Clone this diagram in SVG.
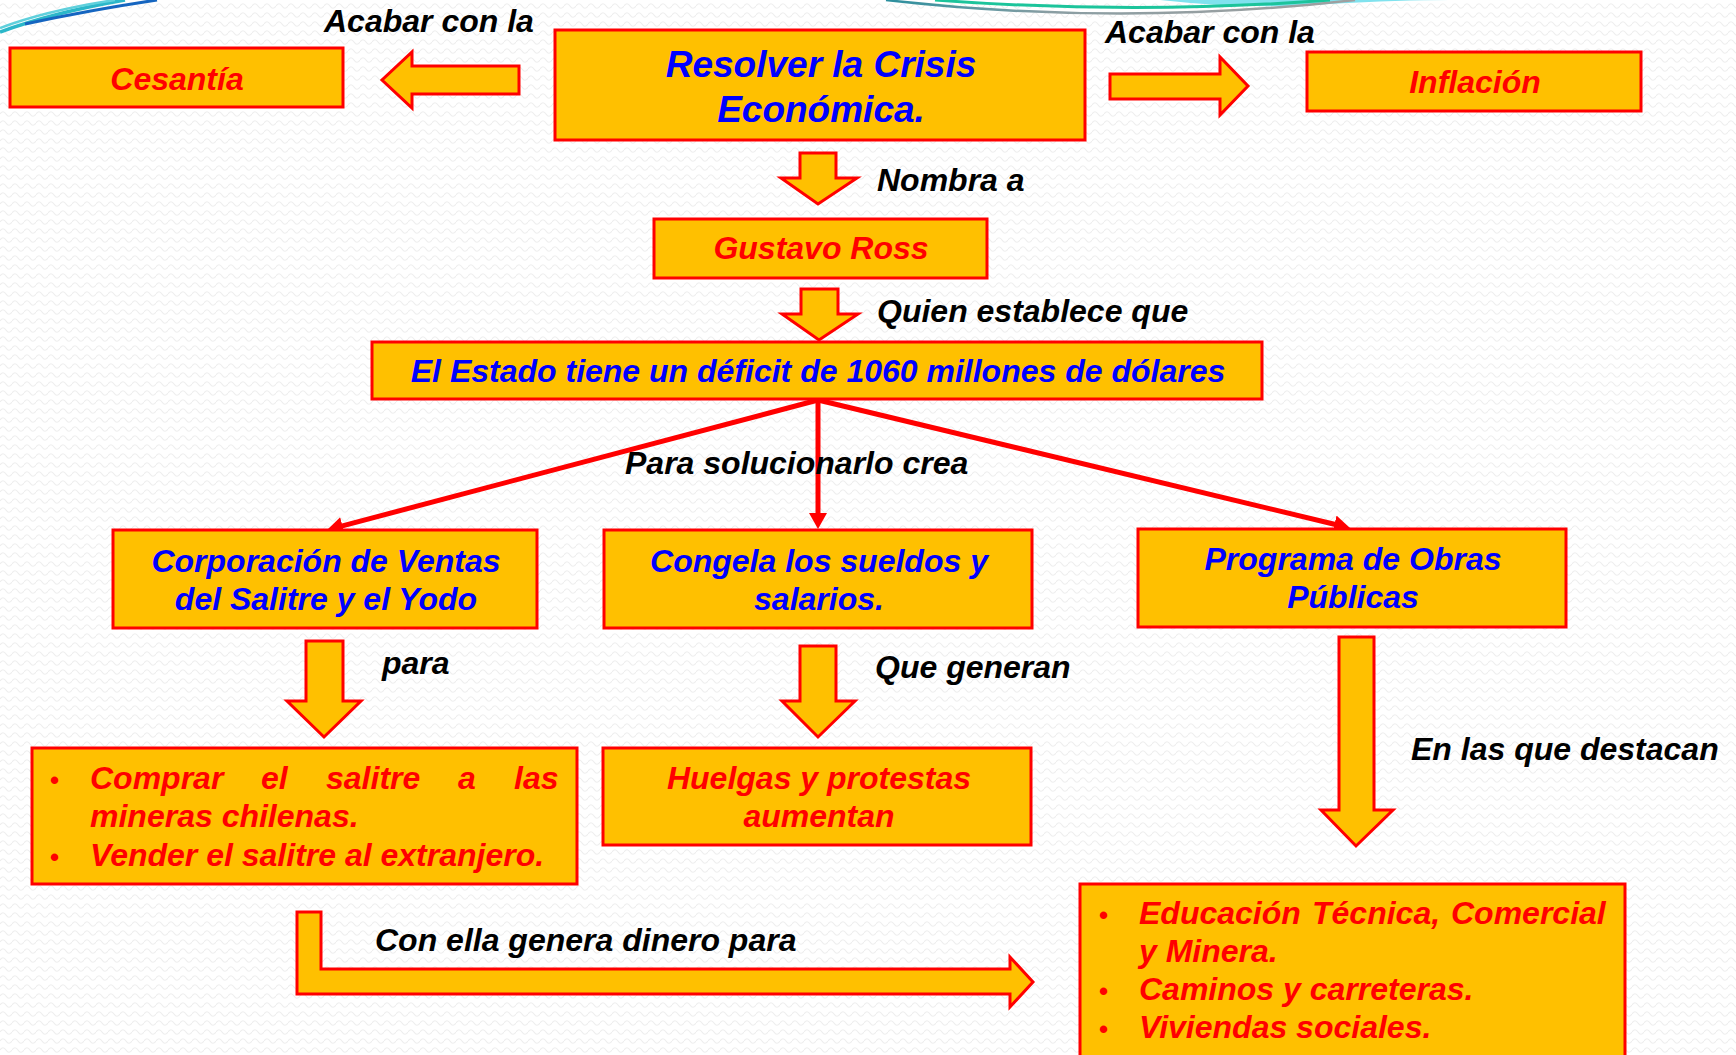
<svg xmlns="http://www.w3.org/2000/svg" width="1736" height="1055" viewBox="0 0 1736 1055">
<defs>
<pattern id="bg" width="12" height="9" patternUnits="userSpaceOnUse">
<path d="M0,6 Q3,1.5 6,6 T12,6" fill="none" stroke="#eeeeee" stroke-width="1.2"/>
</pattern>
<marker id="ah" viewBox="0 0 16 18" refX="1" refY="9" markerWidth="16" markerHeight="18" markerUnits="userSpaceOnUse" orient="auto">
<path d="M0,0 L16,9 L0,18 z" fill="#FF0000"/>
</marker>
<linearGradient id="arcg" x1="0" x2="1" y1="0" y2="0">
<stop offset="0" stop-color="#2a8f9e"/>
<stop offset="0.35" stop-color="#8a9ea3"/>
<stop offset="1" stop-color="#a0a0a0"/>
</linearGradient>
</defs>
<style>
.box{fill:#FFC000;stroke:#FF0000;stroke-width:3}
.arw{fill:#FFC000;stroke:#FF0000;stroke-width:3;stroke-linejoin:miter}
.t{font-family:"Liberation Sans",Arial,sans-serif;font-weight:bold;font-style:italic;font-size:32px}
.blue{fill:#0000FF}
.red{fill:#FF0000}
.lbl{fill:#000000}
.c{text-anchor:middle}
.big{font-size:37px}
.bul{font-size:26px;font-style:normal}
.ln{stroke:#FF0000;stroke-width:5;fill:none;marker-end:url(#ah)}
</style>
<rect width="1736" height="1055" fill="#ffffff"/>
<rect width="1736" height="1055" fill="url(#bg)"/>

<g id="decor">
<path d="M0,32 Q55,12 125,0" fill="none" stroke="#2bb7c9" stroke-width="3.5"/>
<path d="M0,28 Q48,10 115,0" fill="none" stroke="#5fd0dc" stroke-width="2.5"/>
<path d="M25,24 Q90,10 157,0" fill="none" stroke="#1565c0" stroke-width="3"/>
<path d="M1160,0 Q1250,10 1330,4 Q1400,0 1450,0 Z" fill="#80e2ee"/>
<path d="M886,0 Q1120,27 1355,0" fill="none" stroke="url(#arcg)" stroke-width="2.5"/>
<path d="M935,0 Q1135,15 1330,0" fill="none" stroke="#1cc49b" stroke-width="3"/>
</g>

<g id="connectors">
<polygon class="arw" points="519,66 412,66 412,52 382,80 412,108 412,94 519,94"/>
<polygon class="arw" points="1110,74 1220,74 1220,57 1248,86 1220,115 1220,99 1110,99"/>
<polygon class="arw" points="800,153 836,153 836,178 857,178 818,204 781,178 800,178"/>
<polygon class="arw" points="801,289 838,289 838,314 858,314 819,340 782,314 801,314"/>
<line class="ln" x1="818" y1="400" x2="341.5" y2="526.1"/>
<line class="ln" x1="818" y1="400" x2="818" y2="514"/>
<line class="ln" x1="818" y1="400" x2="1335.4" y2="524.5"/>
<polygon class="arw" points="306,641 343,641 343,701 361,701 324,737 287,701 306,701"/>
<polygon class="arw" points="800,646 836,646 836,701 855,701 818,737 782,701 800,701"/>
<polygon class="arw" points="1339,637 1374,637 1374,810 1393,810 1356,846 1321,810 1339,810"/>
<polygon class="arw" points="297,912 321,912 321,969 1010,969 1010,957 1033,982 1010,1007 1010,994 297,994"/>
<text class="t lbl" x="324" y="32">Acabar con la</text>
<text class="t lbl" x="1105" y="43">Acabar con la</text>
<text class="t lbl" x="877" y="191">Nombra a</text>
<text class="t lbl" x="877" y="322">Quien establece que</text>
<text class="t lbl" x="625" y="474">Para solucionarlo crea</text>
<text class="t lbl" x="382" y="674">para</text>
<text class="t lbl" x="875" y="678">Que generan</text>
<text class="t lbl" x="1411" y="760">En las que destacan</text>
<text class="t lbl" x="375" y="951">Con ella genera dinero para</text>
</g>

<g id="n-crisis">
<rect class="box" x="555" y="30" width="530" height="110"/>
<text class="t big blue c" x="821" y="77">Resolver la Crisis</text>
<text class="t big blue c" x="821" y="122">Económica.</text>
</g>
<g id="n-cesantia">
<rect class="box" x="10" y="48" width="333" height="59"/>
<text class="t red c" x="177" y="90">Cesantía</text>
</g>
<g id="n-inflacion">
<rect class="box" x="1307" y="52" width="334" height="59"/>
<text class="t red c" x="1475" y="93">Inflación</text>
</g>
<g id="n-ross">
<rect class="box" x="654" y="219" width="333" height="59"/>
<text class="t red c" x="821" y="259">Gustavo Ross</text>
</g>
<g id="n-estado">
<rect class="box" x="372" y="342" width="890" height="57"/>
<text class="t blue c" x="818" y="382">El Estado tiene un déficit de 1060 millones de dólares</text>
</g>
<g id="n-corporacion">
<rect class="box" x="113" y="530" width="424" height="98"/>
<text class="t blue c" x="326" y="572">Corporación de Ventas</text>
<text class="t blue c" x="326" y="610">del Salitre y el Yodo</text>
</g>
<g id="n-congela">
<rect class="box" x="604" y="530" width="428" height="98"/>
<text class="t blue c" x="819" y="572">Congela los sueldos y</text>
<text class="t blue c" x="819" y="610">salarios.</text>
</g>
<g id="n-programa">
<rect class="box" x="1138" y="529" width="428" height="98"/>
<text class="t blue c" x="1353" y="570">Programa de Obras</text>
<text class="t blue c" x="1353" y="608">Públicas</text>
</g>
<g id="n-comprar">
<rect class="box" x="32" y="748" width="545" height="136"/>
<text class="t red" y="789"><tspan class="bul" x="50">•</tspan><tspan x="90">Comprar</tspan><tspan x="261">el</tspan><tspan x="326">salitre</tspan><tspan x="458">a</tspan><tspan x="514">las</tspan></text>
<text class="t red" x="90" y="827">mineras chilenas.</text>
<text class="t red" y="866"><tspan class="bul" x="50">•</tspan><tspan x="90">Vender el salitre al extranjero.</tspan></text>
</g>
<g id="n-huelgas">
<rect class="box" x="603" y="748" width="428" height="97"/>
<text class="t red c" x="819" y="789">Huelgas y protestas</text>
<text class="t red c" x="819" y="827">aumentan</text>
</g>
<g id="n-educacion">
<rect class="box" x="1080" y="884" width="545" height="185"/>
<text class="t red" y="924"><tspan class="bul" x="1099">•</tspan><tspan x="1139">Educación</tspan><tspan x="1312">Técnica,</tspan><tspan x="1451">Comercial</tspan></text>
<text class="t red" x="1139" y="962">y Minera.</text>
<text class="t red" y="1000"><tspan class="bul" x="1099">•</tspan><tspan x="1139">Caminos y carreteras.</tspan></text>
<text class="t red" y="1038"><tspan class="bul" x="1099">•</tspan><tspan x="1139">Viviendas sociales.</tspan></text>
</g>
</svg>
